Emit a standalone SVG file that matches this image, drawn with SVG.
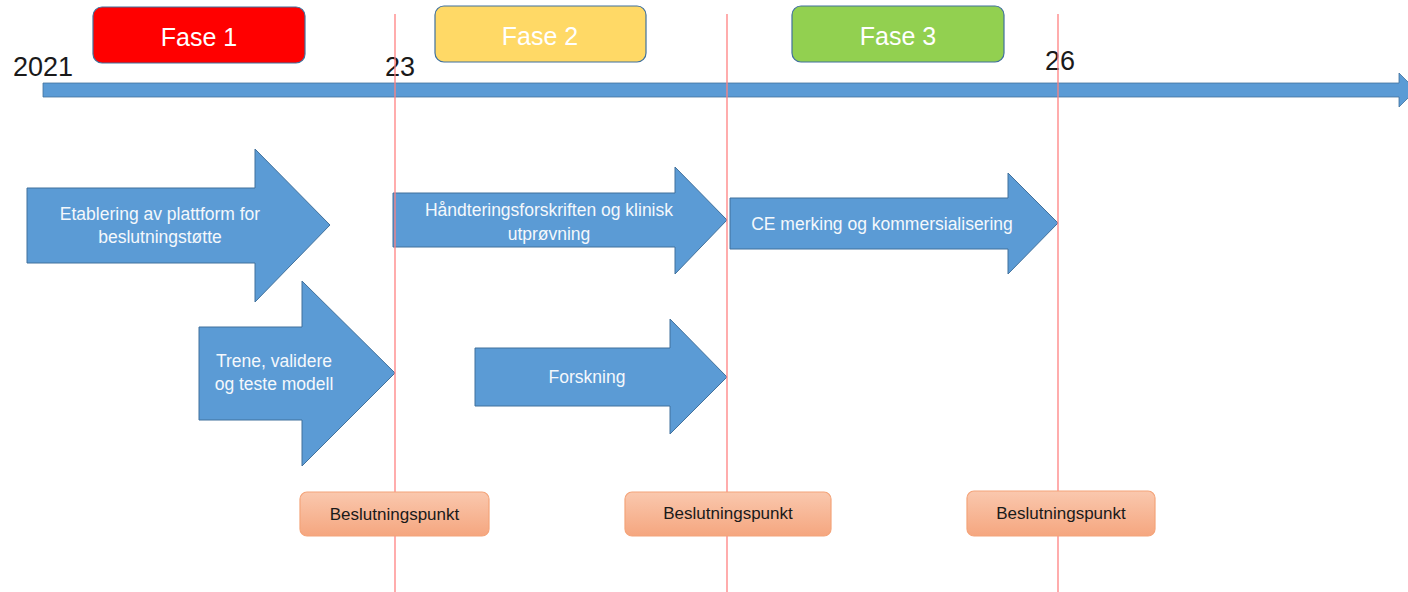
<svg xmlns="http://www.w3.org/2000/svg" width="1408" height="592" viewBox="0 0 1408 592">
  <style>
    .phase { stroke: #41719C; stroke-width: 1.2; }
    .phase-label { font-family: "Liberation Sans", Arial, sans-serif; font-size: 25px; fill: #FFFFFF; text-anchor: middle; }
    .year { font-family: "Liberation Sans", Arial, sans-serif; font-size: 27px; fill: #1A1A1A; text-anchor: middle; }
    .step { fill: #5B9BD5; stroke: #41719C; stroke-width: 1; }
    .step-label { font-family: "Liberation Sans", Arial, sans-serif; font-size: 17.5px; fill: #F4F8FC; text-anchor: middle; }
    .gate { fill: url(#gateFill); stroke: #F4A47A; stroke-width: 1.2; }
    .gate-label { font-family: "Liberation Sans", Arial, sans-serif; font-size: 17px; fill: #1A1A1A; text-anchor: middle; }
    .milestone { stroke: #FF8080; stroke-width: 1.3; fill: none; }
  </style>
  <defs>
    <linearGradient id="gateFill" x1="0" y1="0" x2="0" y2="1">
      <stop offset="0" stop-color="#FAC8AE"/>
      <stop offset="1" stop-color="#F5A67F"/>
    </linearGradient>
  </defs>

  <rect width="1408" height="592" fill="#FFFFFF"/>

  <!-- timeline axis -->
  <g id="timeline">
    <polygon points="43,83 1399,83 1399,73 1416,90 1399,107 1399,97 43,97" fill="#5B9BD5" stroke="#41719C" stroke-width="0.8"/>
    <text class="year" x="43" y="76">2021</text>
    <text class="year" x="400" y="76">23</text>
    <text class="year" x="1060" y="70">26</text>
  </g>

  <!-- phase headers -->
  <g id="fase1">
    <rect class="phase" x="93" y="7" width="212" height="56" rx="9" fill="#FF0000"/>
    <text class="phase-label" x="199" y="46">Fase 1</text>
  </g>
  <g id="fase2">
    <rect class="phase" x="435" y="6" width="211" height="56" rx="9" fill="#FFD966"/>
    <text class="phase-label" x="540" y="45">Fase 2</text>
  </g>
  <g id="fase3">
    <rect class="phase" x="792" y="6" width="212" height="56" rx="9" fill="#92D050"/>
    <text class="phase-label" x="898" y="45">Fase 3</text>
  </g>

  <!-- work packages -->
  <g id="etablering">
    <polygon class="step" points="27,188 255,188 255,149 330,225 255,302 255,263 27,263"/>
    <text class="step-label" x="160" y="220">Etablering av plattform for</text>
    <text class="step-label" x="160" y="243">beslutningstøtte</text>
  </g>
  <g id="handtering">
    <polygon class="step" points="393,193 675,193 675,167 727,220 675,274 675,247 393,247"/>
    <text class="step-label" x="549" y="216">Håndteringsforskriften og klinisk</text>
    <text class="step-label" x="549" y="240">utprøvning</text>
  </g>
  <g id="ce-merking">
    <polygon class="step" points="730,198 1008,198 1008,173 1058,223 1008,274 1008,249 730,249"/>
    <text class="step-label" x="882" y="230">CE merking og kommersialisering</text>
  </g>
  <g id="trene">
    <polygon class="step" points="199,327 302,327 302,281 395,373 302,466 302,420 199,420"/>
    <text class="step-label" x="274" y="367">Trene, validere</text>
    <text class="step-label" x="274" y="390">og teste modell</text>
  </g>
  <g id="forskning">
    <polygon class="step" points="475,348 670,348 670,319 727,377 670,434 670,406 475,406"/>
    <text class="step-label" x="587" y="383">Forskning</text>
  </g>

  <!-- milestone lines -->
  <g id="connectors">
    <line class="milestone" x1="395" y1="14" x2="395" y2="592"/>
    <line class="milestone" x1="727" y1="14" x2="727" y2="592"/>
    <line class="milestone" x1="1058" y1="14" x2="1058" y2="592"/>
  </g>

  <!-- decision points -->
  <g id="beslutning1">
    <rect class="gate" x="300" y="492" width="189" height="44" rx="7"/>
    <text class="gate-label" x="394.5" y="520">Beslutningspunkt</text>
  </g>
  <g id="beslutning2">
    <rect class="gate" x="625" y="492" width="206" height="44" rx="7"/>
    <text class="gate-label" x="728" y="519">Beslutningspunkt</text>
  </g>
  <g id="beslutning3">
    <rect class="gate" x="967" y="491" width="188" height="45" rx="7"/>
    <text class="gate-label" x="1061" y="519">Beslutningspunkt</text>
  </g>
</svg>
